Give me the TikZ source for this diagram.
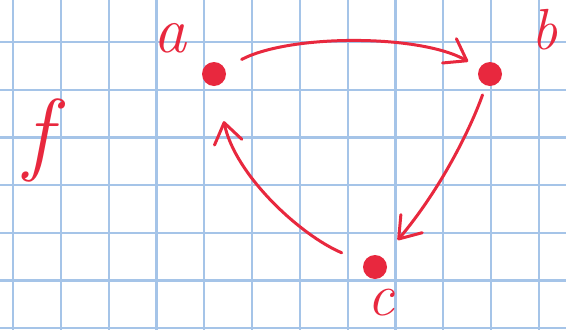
\documentclass[tikz,border=0pt]{standalone}
\usetikzlibrary{arrows.meta}
\definecolor{pen}{RGB}{232,40,62}
\definecolor{gridblue}{RGB}{165,196,232}
\begin{document}
\begin{tikzpicture}[x=1pt,y=-1pt,
  gridline/.style={gridblue,line width=2.2pt},
  dot/.style={circle,fill=pen,inner sep=0pt,minimum size=24pt},
  lbl/.style={text=pen,inner sep=0pt},
  conn/.style={pen,line width=3pt,line cap=round,
    -{Straight Barb[length=20pt,width=28pt,line cap=round,line join=round]}}]
\useasboundingbox (0,0) rectangle (566,330);
\fill[white] (0,0) rectangle (566,330);
\foreach \x in {13,60.8,...,560} \draw[gridline] (\x,0) -- (\x,330);
\foreach \y in {42,89.7,...,330} \draw[gridline] (0,\y) -- (566,\y);
% points
\node[dot] (a) at (214,74) {};
\node[dot] (b) at (490,74) {};
\node[dot] (c) at (375,267) {};
% labels
\node[lbl,font=\itshape\fontsize{66}{66}\selectfont] (la) at (170,38) {a};
\node[lbl,font=\itshape\fontsize{58}{58}\selectfont] (lb) at (545,30) {b};
\node[lbl,font=\itshape\fontsize{60}{60}\selectfont] (lc) at (381,303) {c};
\node[lbl,font=\itshape\fontsize{92}{92}\selectfont] (lf) at (38,140) {f};
% connectors
\draw[conn,shorten <=19pt,shorten >=13pt] (a) .. controls (290,34) and (420,34) .. (b);
\draw[conn,shorten <=10pt,shorten >=23pt] (b) .. controls (470,130) and (440,190) .. (c);
\draw[conn,shorten <=24pt,shorten >=36pt] (c) .. controls (300,235) and (235,175) .. (a);
\end{tikzpicture}
\end{document}
